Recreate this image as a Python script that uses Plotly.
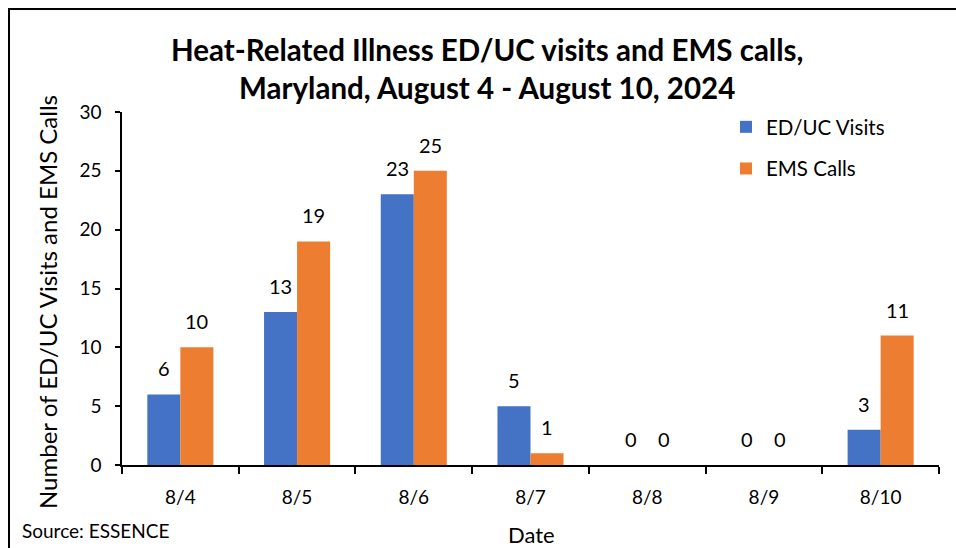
import plotly.graph_objects as go

dates = ["8/4", "8/5", "8/6", "8/7", "8/8", "8/9", "8/10"]
ed_uc_visits = [6, 13, 23, 5, 0, 0, 3]
ems_calls = [10, 19, 25, 1, 0, 0, 11]
y_ticks = [0, 5, 10, 15, 20, 25, 30]

FONT = "Lato"
W, H = 956, 548
L, R, T, B = 122, 17, 112, 83
pw, ph = W - L - R, H - T - B

def px_x(p):
    return (p - L) / pw

def px_y(p):
    return (H - B - p) / ph

fig = go.Figure()
fig.add_trace(go.Bar(x=dates, y=ed_uc_visits, name="ED/UC Visits", legendgroup="g0",
                     marker=dict(color="#4472C4", line=dict(width=0))))
fig.add_trace(go.Bar(x=dates, y=ems_calls, name="EMS Calls", legendgroup="g1",
                     marker=dict(color="#ED7D31", line=dict(width=0))))

annotations = []
for d, a, b in zip(dates, ed_uc_visits, ems_calls):
    annotations.append(dict(x=d, y=a, xref="x", yref="y", text=str(a), showarrow=False,
                            xshift=-16.5, yshift=26, yanchor="middle",
                            font=dict(family=FONT, size=20, color="black")))
    annotations.append(dict(x=d, y=b, xref="x", yref="y", text=str(b), showarrow=False,
                            xshift=16.5, yshift=26, yanchor="middle",
                            font=dict(family=FONT, size=20, color="black")))

annotations.append(dict(text="Number of ED/UC Visits and EMS Calls", textangle=-90,
                        xref="paper", yref="paper", x=px_x(47), y=px_y(302),
                        xanchor="center", yanchor="middle", showarrow=False,
                        font=dict(family=FONT, size=24, color="black")))
annotations.append(dict(text="Date", xref="paper", yref="paper", x=px_x(531), y=px_y(534),
                        xanchor="center", yanchor="middle", showarrow=False,
                        font=dict(family=FONT, size=22, color="black")))
annotations.append(dict(text="Source: ESSENCE", xref="paper", yref="paper", x=px_x(20), y=px_y(530),
                        xanchor="left", yanchor="middle", showarrow=False,
                        font=dict(family=FONT, size=19, color="black")))
annotations.append(dict(text="<b>Heat-Related Illness ED/UC visits and EMS calls,<br>Maryland, August 4 - August 10, 2024</b>",
                        xref="paper", yref="paper", x=px_x(487), y=px_y(69),
                        xanchor="center", yanchor="middle", showarrow=False, align="center",
                        font=dict(family=FONT, size=29.5, color="black")))

fig.update_layout(
    width=W, height=H,
    margin=dict(l=L, r=R, t=T, b=B),
    paper_bgcolor="white", plot_bgcolor="white",
    barmode="group", bargap=0.434, bargroupgap=0,
    legend=dict(x=px_x(726), y=px_y(107), xanchor="left", yanchor="top",
                font=dict(family=FONT, size=20.5, color="black"),
                bgcolor="rgba(0,0,0,0)", traceorder="grouped", itemwidth=30,
                tracegroupgap=12),
    xaxis=dict(showline=True, linecolor="black", linewidth=1.5, ticks="outside",
               tickson="boundaries", ticklen=7, tickcolor="black", tickwidth=1.5,
               tickfont=dict(family=FONT, size=19, color="black"), ticklabelstandoff=14,
               showgrid=False, zeroline=False),
    yaxis=dict(range=[0, 30], tickvals=y_ticks, showline=True, linecolor="black", linewidth=1.5,
               ticks="outside", ticklen=5, tickcolor="black", tickwidth=1.5,
               tickfont=dict(family=FONT, size=19, color="black"), ticklabelstandoff=10,
               showgrid=False, zeroline=False),
    annotations=annotations,
    shapes=[dict(type="rect", xref="paper", yref="paper",
                 x0=px_x(9), x1=px_x(990), y0=px_y(600), y1=px_y(9),
                 line=dict(color="black", width=2), fillcolor="rgba(0,0,0,0)", layer="above")],
    font=dict(family=FONT, color="black"),
)

fig.write_html("out.html", config={"displayModeBar": False},
               post_script="document.body.style.margin='0';document.body.style.overflow='hidden';")
